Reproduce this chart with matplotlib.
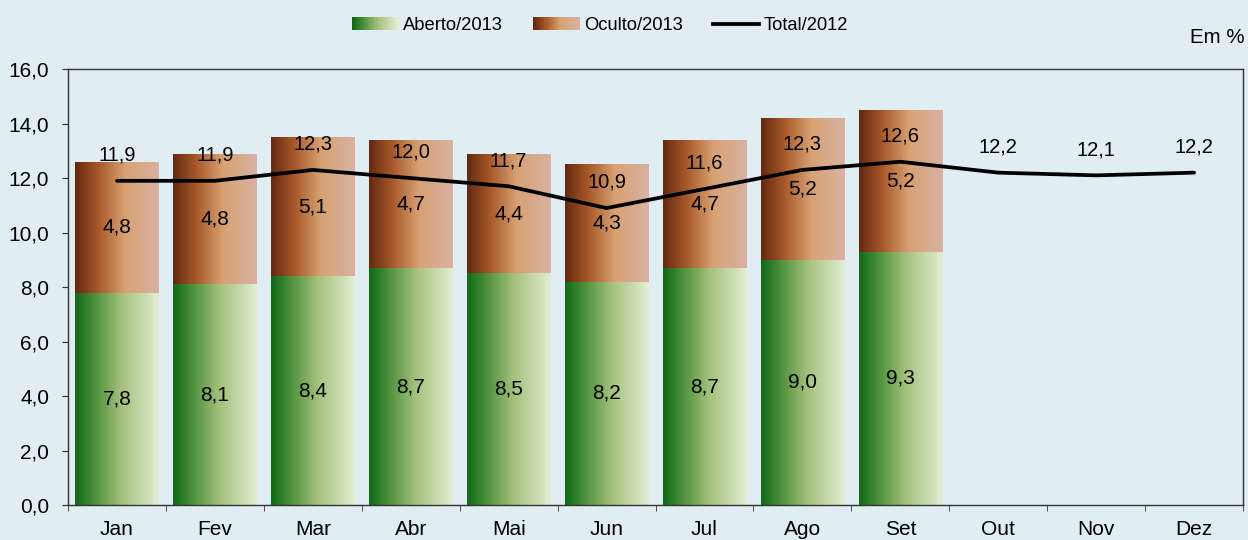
import numpy as np
import matplotlib
matplotlib.use("Agg")
import matplotlib.pyplot as plt
from matplotlib.colors import LinearSegmentedColormap
from matplotlib.patches import Rectangle
from matplotlib.lines import Line2D
from matplotlib.legend_handler import HandlerBase

months = ["Jan", "Fev", "Mar", "Abr", "Mai", "Jun", "Jul", "Ago", "Set", "Out", "Nov", "Dez"]
aberto_2013 = [7.8, 8.1, 8.4, 8.7, 8.5, 8.2, 8.7, 9.0, 9.3]
oculto_2013 = [4.8, 4.8, 5.1, 4.7, 4.4, 4.3, 4.7, 5.2, 5.2]
total_2012 = [11.9, 11.9, 12.3, 12.0, 11.7, 10.9, 11.6, 12.3, 12.6, 12.2, 12.1, 12.2]
yticks = [0, 2, 4, 6, 8, 10, 12, 14, 16]

plt.rcParams['font.family'] = ['Liberation Sans', 'DejaVu Sans']
BG = "#E0EDF3"

green_cmap = LinearSegmentedColormap.from_list(
    "g", [(0, "#0f6a14"), (0.3, "#5e9a48"), (0.55, "#a3c07a"), (1, "#e2edd3")])
brown_cmap = LinearSegmentedColormap.from_list(
    "b", [(0, "#64290f"), (0.28, "#a8592a"), (0.6, "#d8a273"), (1, "#d7b2a3")])

fig = plt.figure(figsize=(12.48, 5.4), dpi=100, facecolor=BG)
ax = fig.add_axes([0.0545, 0.0648, 0.9415, 0.8072])
ax.set_facecolor(BG)

n = len(months)
x = np.arange(n)
xa = x[:len(aberto_2013)]
w = 0.85

grad = np.linspace(0, 1, 256).reshape(1, -1)

def gradient_bars(bars, cmap):
    for p in bars:
        p.set_facecolor("none")
        p.set_edgecolor("none")
        x0, y0 = p.get_x(), p.get_y()
        ww, hh = p.get_width(), p.get_height()
        im = ax.imshow(grad, cmap=cmap, aspect="auto",
                       extent=[x0, x0 + ww, y0, y0 + hh], zorder=2,
                       interpolation="bilinear")
        im.set_clip_path(p)

b1 = ax.bar(xa, aberto_2013, width=w, zorder=2)
b2 = ax.bar(xa, oculto_2013, width=w, bottom=aberto_2013, zorder=2)
gradient_bars(b1, green_cmap)
gradient_bars(b2, brown_cmap)

ax.plot(x, total_2012, color="black", lw=2.7, zorder=4, solid_capstyle="round")

fs = 15
for xi, a, o in zip(xa, aberto_2013, oculto_2013):
    ax.text(xi, a / 2, f"{a:.1f}".replace(".", ","), ha="center", va="center", fontsize=fs, zorder=5)
    ax.text(xi, a + o / 2, f"{o:.1f}".replace(".", ","), ha="center", va="center", fontsize=fs, zorder=5)
for xi, t in zip(x, total_2012):
    ax.annotate(f"{t:.1f}".replace(".", ","), (xi, t), xytext=(0, 18.5), textcoords="offset points",
                ha="center", va="center", fontsize=14.5, zorder=5)

ax.set_xlim(-0.5, n - 0.5)
ax.set_ylim(0, 16)
ax.set_yticks(yticks)
ax.set_yticklabels([f"{v:.1f}".replace(".", ",") for v in yticks], fontsize=fs)
ax.set_xticks(x)
ax.set_xticklabels(months, fontsize=fs)
ax.set_xticks(np.arange(-0.5, n, 1.0), minor=True)
ax.tick_params(axis="x", which="major", length=0, pad=11)
ax.tick_params(axis="x", which="minor", length=4.5, direction="out", color="#333333")
ax.tick_params(axis="y", length=4.5, direction="out", color="#333333", pad=9)
for s in ax.spines.values():
    s.set_color("#333333")
    s.set_linewidth(1.0)

class HandlerGradient(HandlerBase):
    def __init__(self, cmap, **kw):
        super().__init__(**kw)
        self.cmap = cmap
    def create_artists(self, legend, orig_handle, xdescent, ydescent, width, height, fontsize, trans):
        k = 30
        arts = []
        for i in range(k):
            r = Rectangle((-xdescent + width * i / k, -ydescent), width / k + 0.3, height,
                          facecolor=self.cmap(i / (k - 1)), edgecolor="none", transform=trans)
            arts.append(r)
        return arts

h1 = Rectangle((0, 0), 1, 1)
h2 = Rectangle((0, 0), 1, 1)
h3 = Line2D([], [], color="black", lw=2.7)
fig.legend([h1, h2, h3], ["Aberto/2013", "Oculto/2013", "Total/2012"],
           handler_map={h1: HandlerGradient(green_cmap), h2: HandlerGradient(brown_cmap)},
           loc="center", bbox_to_anchor=(0.481, 0.953), ncol=3, frameon=False,
           fontsize=13.2, handlelength=2.5, handleheight=0.65, handletextpad=0.27,
           columnspacing=1.65, borderpad=0.2)

fig.text(0.997, 0.93, "Em %", ha="right", va="center", fontsize=14.8)

fig.savefig("out.png", dpi=100, facecolor=BG)
